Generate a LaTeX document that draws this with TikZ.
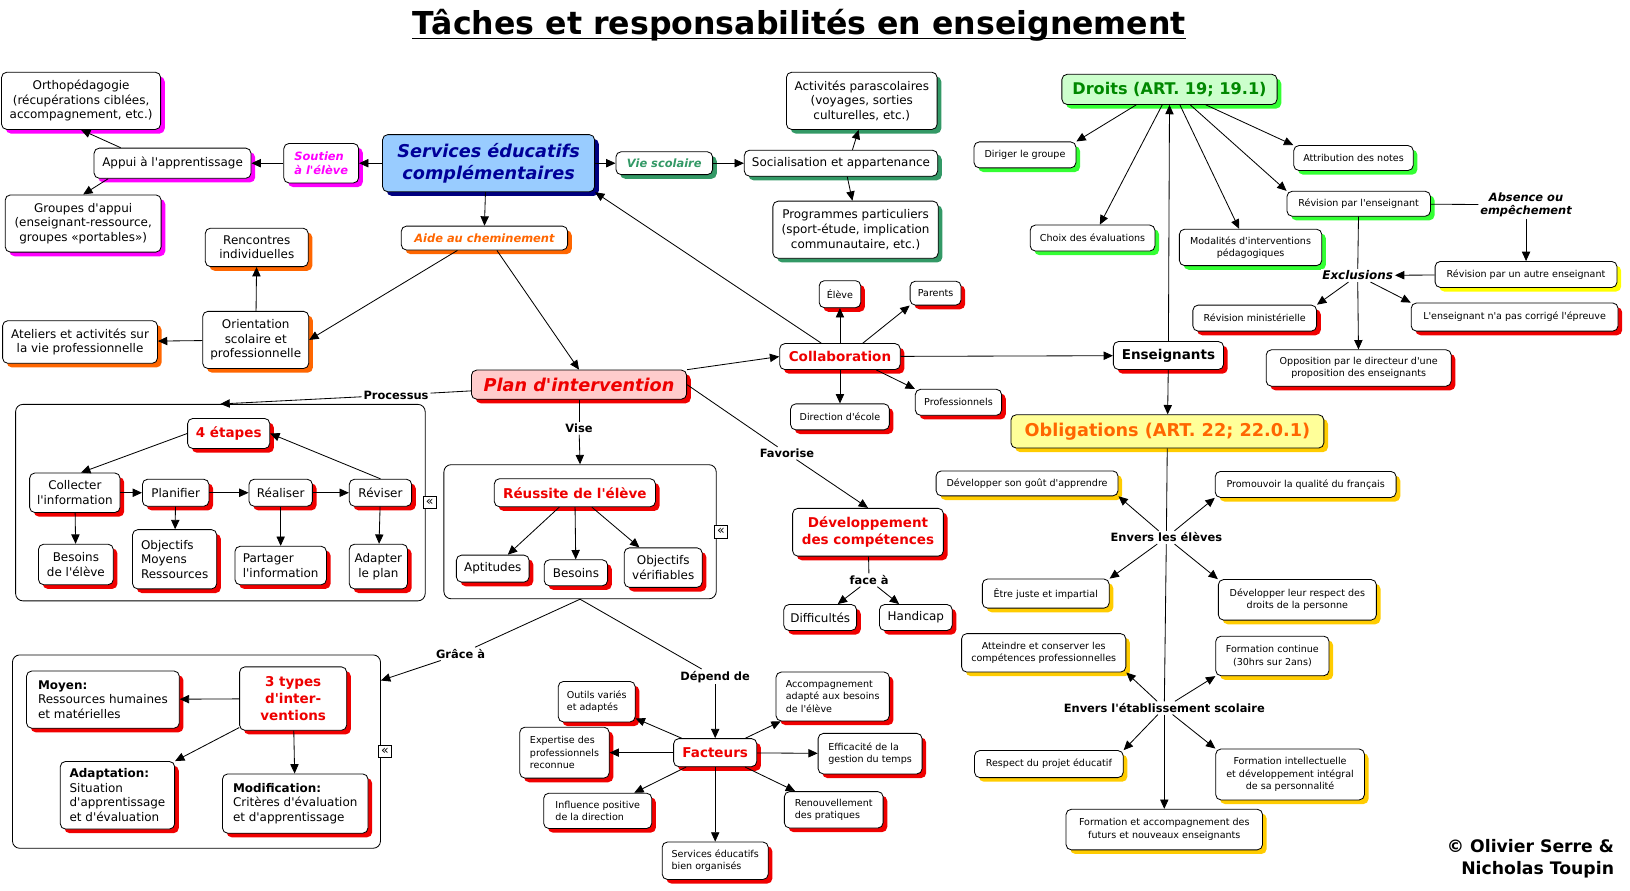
\documentclass[tikz,border=0pt]{standalone}
\usepackage{fontspec}
\setmainfont{DejaVu Sans}[Ligatures=TeXOff]
\usetikzlibrary{arrows.meta,shadows}

\definecolor{shMag}{HTML}{FF00FF}
\definecolor{shNavy}{HTML}{000080}
\definecolor{shSea}{HTML}{339966}
\definecolor{shOrange}{HTML}{FF6600}
\definecolor{shRed}{HTML}{F00000}
\definecolor{shLime}{HTML}{33FF33}
\definecolor{shGold}{HTML}{FFCC00}
\definecolor{shYellow}{HTML}{FFFF00}
\definecolor{servFill}{HTML}{99CCFF}
\definecolor{planFill}{HTML}{FFCCCC}
\definecolor{droitFill}{HTML}{CCFFCC}
\definecolor{obligFill}{HTML}{FFFF99}
\definecolor{txtNavy}{HTML}{000099}
\definecolor{txtRed}{HTML}{EE0000}
\definecolor{txtGreen}{HTML}{008800}
\definecolor{txtOrange}{HTML}{FF6600}

\newcommand{\ftTitle}{\fontsize{30.4}{36}\selectfont\bfseries}
\newcommand{\ftNorm}{\fontsize{11.5}{14}\selectfont}
\newcommand{\ftSmall}{\fontsize{9.2}{12}\selectfont}
\newcommand{\ftLbl}{\fontsize{11}{13}\selectfont\bfseries}
\newcommand{\ftRed}{\fontsize{13}{16}\selectfont\bfseries}
\newcommand{\ftBig}{\fontsize{17}{21}\selectfont\bfseries\itshape}
\newcommand{\ftTag}{\fontsize{11}{13}\selectfont\bfseries\itshape}

\begin{document}
\begin{tikzpicture}[x=1pt, y=-1pt, line width=0.8pt, >={Triangle[length=9pt,width=8pt]},
  box/.style={draw, rounded corners=5pt, fill=white, align=center, inner sep=2pt, font=\ftNorm,
    drop shadow={shadow xshift=4pt, shadow yshift=-4pt, fill=#1, draw=none, opacity=1}},
  box/.default=shRed,
  sbox/.style={box=#1, font=\ftSmall},
  sbox/.default=shRed,
  redbox/.style={box=shRed, font=\ftRed, text=txtRed},
  tag/.style={box=#1, font=\ftTag, text=#1},
  lbl/.style={font=\ftLbl, inner sep=1.5pt, fill=white},
  grp/.style={draw, rounded corners=7pt},
  ico/.style={draw, fill=white, inner sep=0pt, minimum size=12pt, font=\fontsize{12}{12}\selectfont},
  sz/.style 2 args={minimum width=#1pt, minimum height=#2pt}]
\useasboundingbox (0,0) rectangle (1568,857);

% ===== Title =====
\node[font=\ftTitle, inner sep=0pt, anchor=base] (title) at (769,33) {Tâches et responsabilités en enseignement};
\draw[line width=1.6pt] ([yshift=-4pt]title.base west) -- ([yshift=-4pt]title.base east);

% ===== Services educatifs (top left) =====
\node[box=shNavy, sz={204}{55}, fill=servFill, font=\ftBig, text=txtNavy] (serv) at (470,157) {Services éducatifs\\complémentaires};
\node[tag=shMag, sz={72}{38}, align=left] (soutien) at (309,157) {Soutien\\à l'élève};
\node[box=shMag, sz={151}{29}] (appui) at (166,157) {Appui à l'apprentissage};
\node[box=shMag, sz={153}{55}] (ortho) at (78,97) {Orthopédagogie\\(récupérations ciblées,\\accompagnement, etc.)};
\node[box=shMag, sz={150}{55}] (groupes) at (80,215) {Groupes d'appui\\(enseignant-ressource,\\groupes «portables»)};
\draw[->] (serv) -- (soutien);
\draw[->] (soutien) -- (appui);
\draw[->] ([xshift=26pt]appui.north west) -- (ortho.south);
\draw[->] ([xshift=14pt]appui.south west) -- (groupes.north);

% Vie scolaire
\node[tag=shSea, sz={93}{22}] (vie) at (639,157) {Vie scolaire};
\node[box=shSea, sz={186}{25}] (social) at (809,157) {Socialisation et appartenance};
\node[box=shSea, sz={145}{55}] (activ) at (829,97) {Activités parascolaires\\(voyages, sorties\\culturelles, etc.)};
\node[box=shSea, sz={159}{55}] (prog) at (823,221) {Programmes particuliers\\(sport-étude, implication\\communautaire, etc.)};
\draw[->] (serv) -- (vie);
\draw[->] (vie) -- (social);
\draw[->] ([xshift=11pt]social.north) -- ([xshift=-3pt]activ.south);
\draw[->] ([xshift=6pt]social.south) -- ([xshift=-3pt]prog.north);

% Aide au cheminement
\node[tag=shOrange, sz={160}{23}] (aide) at (466,229) {Aide au cheminement};
\node[box=shOrange, sz={99}{37}] (renc) at (247,238) {Rencontres\\individuelles};
\node[box=shOrange, sz={102}{55}] (orient) at (246,327) {Orientation\\scolaire et\\professionnelle};
\node[box=shOrange, sz={149}{41}] (atel) at (77,329) {Ateliers et activités sur\\la vie professionnelle};
\draw[->] ([xshift=-3pt]serv.south) -- (aide.north);
\draw[->] ([xshift=-26pt]aide.south) -- (orient.east);
\draw[->] (orient) -- (renc);
\draw[->] (orient) -- (atel);

% ===== Plan d'intervention =====
\node[box=shRed, sz={207}{28}, fill=planFill, font=\ftBig, text=txtRed] (plan) at (557,370) {Plan d'intervention};
\draw[->] ([xshift=12pt]aide.south) -- (plan.north);

% 4 etapes (Processus)
\node[grp, sz={394}{189}] (etapes) at (212,483.5) {};
\node[ico] (icoA) at ([xshift=4pt]etapes.east) {«};
\node[redbox, sz={79}{29}] (etape4) at (220,417) {4 étapes};
\node[box, sz={87}{38}] (collect) at (72,474) {Collecter\\l'information};
\node[box, sz={64}{26}] (planif) at (169,474) {Planifier};
\node[box, sz={61}{26}] (realis) at (270,474) {Réaliser};
\node[box, sz={60}{26}] (revis) at (366,474) {Réviser};
\node[box, sz={72}{39}] (besoins) at (73,543) {Besoins\\de l'élève};
\node[box, sz={81}{57}, align=left] (objmoy) at (168,538) {Objectifs\\Moyens\\Ressources};
\node[box, sz={88}{37}, align=left] (partag) at (270,544) {Partager\\l'information};
\node[box, sz={56}{43}] (adapt) at (364,545) {Adapter\\le plan};
\node[lbl] (proc) at (381,380) {Processus};
\draw ([yshift=-6pt]plan.west) -- (proc);
\draw[->] (proc) -- (etapes.north);
\draw[->] (etape4.west) -- ([xshift=6pt]collect.north);
\draw[->] (revis.north) -- (etape4.east);
\draw[->] (collect) -- (planif);
\draw[->] (planif) -- (realis);
\draw[->] (realis) -- (revis);
\draw[->] (collect) -- (besoins);
\draw[->] (planif) -- (objmoy);
\draw[->] (realis) -- (partag);
\draw[->] (revis) -- (adapt);

% Reussite (Vise)
\node[grp, sz={262}{129}] (but) at (558,511.5) {};
\node[ico] (icoB) at ([xshift=4pt]but.east) {«};
\node[redbox, sz={155}{27}] (reussite) at (553,474) {Réussite de l'élève};
\node[box, sz={70}{26}] (aptit) at (474,547) {Aptitudes};
\node[box, sz={61}{25}] (besoinsB) at (554,551) {Besoins};
\node[box, sz={75}{38}] (objver) at (638,546) {Objectifs\\vérifiables};
\node[lbl] (vise) at (557,412) {Vise};
\draw (plan) -- (vise);
\draw[->] (vise) -- (but.north);
\draw[->] (reussite) -- (aptit);
\draw[->] (reussite) -- (besoinsB);
\draw[->] (reussite) -- (objver);

% 3 types d'interventions (Grace a)
\node[grp, sz={354}{186}] (inter) at (189,723) {};
\node[ico] (icoC) at ([xshift=4pt]inter.east) {«};
\node[redbox, sz={103}{61}] (types) at (282,672) {3 types\\d'inter-\\ventions};
\node[box, sz={147}{55}, align=left] (moyen) at (99,673) {\textbf{Moyen:}\\Ressources humaines\\et matérielles};
\node[box, sz={110}{65}, align=left] (adaptn) at (113,765) {\textbf{Adaptation:}\\Situation\\d'apprentissage\\et d'évaluation};
\node[box, sz={140}{57}, align=left] (modif) at (284,773) {\textbf{Modification:}\\Critères d'évaluation\\et d'apprentissage};
\node[lbl] (grace) at (443,629) {Grâce à};
\draw (but.south) -- (grace);
\draw[->] (grace) -- ([yshift=-25pt]inter.north east);
\draw[->] (types) -- (moyen);
\draw[->] ([yshift=3pt]types.south west) -- (adaptn.north east);
\draw[->] (types) -- (modif);

% Facteurs (Depend de)
\node[redbox, sz={80}{27}] (fact) at (688,724) {Facteurs};
\node[sbox, sz={74}{39}, align=left] (outils) at (574,675) {Outils variés\\et adaptés};
\node[sbox, sz={86}{49}, align=left] (expert) at (543,724) {Expertise des\\professionnels\\reconnue};
\node[sbox, sz={104}{34}, align=left] (influ) at (575,780) {Influence positive\\de la direction};
\node[sbox, sz={102}{36}, align=left] (servorg) at (688,828) {Services éducatifs\\bien organisés};
\node[sbox, sz={95}{35}, align=left] (renouv) at (802,779) {Renouvellement\\des pratiques};
\node[sbox, sz={100}{39}, align=left] (effic) at (837,725) {Efficacité de la\\gestion du temps};
\node[sbox, sz={109}{47}, align=left] (accomp) at (801,670) {Accompagnement\\adapté aux besoins\\de l'élève};
\node[lbl] (depend) at (688,651) {Dépend de};
\draw (but.south) -- (depend);
\draw[->] (depend) -- (fact);
\foreach \f in {outils,expert,influ,servorg,renouv,effic,accomp}
  \draw[->] (fact) -- (\f);

% ===== Collaboration =====
\node[redbox, sz={116}{25}] (collab) at (808,343) {Collaboration};
\node[sbox, sz={40}{26}] (eleve) at (808,283) {Élève};
\node[sbox, sz={49}{23}] (parents) at (900,282) {Parents};
\node[sbox, sz={83}{25}] (prof) at (922,387) {Professionnels};
\node[sbox, sz={95}{25}] (direct) at (808,401) {Direction d'école};
\draw[->] (plan.north east) -- (collab.west);
\draw[->] ([xshift=-18pt]collab.north) -- (serv.south east);
\draw[->] (collab) -- (eleve);
\draw[->] ([xshift=22pt]collab.north) -- (parents.south west);
\draw[->] ([xshift=35pt]collab.south) -- (prof.north west);
\draw[->] (collab) -- (direct);

% Developpement des competences (Favorise)
\node[redbox, sz={145}{46}] (dev) at (835,512) {Développement\\des compétences};
\node[box, sz={70}{25}] (diff) at (789,594) {Difficultés};
\node[box, sz={70}{25}] (handi) at (881,594) {Handicap};
\node[lbl] (fav) at (757,436) {Favorise};
\node[lbl] (faceA) at (836,558) {face à};
\draw (plan.east) -- (fav);
\draw[->] (fav) -- (dev.north);
\draw (dev) -- (faceA);
\draw[->] (faceA) -- (diff);
\draw[->] (faceA) -- (handi);

% ===== Enseignants =====
\node[box, sz={106}{27}, font=\ftRed] (ens) at (1124,342) {Enseignants};
\draw[->] (collab) -- (ens);

% Droits
\node[box=shLime, sz={207}{29}, fill=droitFill, font=\fontsize{15.5}{18}\selectfont\bfseries, text=txtGreen] (droits) at (1125,86) {Droits (ART. 19; 19.1)};
\node[sbox=shLime, sz={98}{25}] (dirig) at (986,149) {Diriger le groupe};
\node[sbox=shLime, sz={120}{25}] (choix) at (1051,229) {Choix des évaluations};
\node[sbox=shLime, sz={137}{35}] (modal) at (1203,238) {Modalités d'interventions\\pédagogiques};
\node[sbox=shLime, sz={115}{24}] (attrib) at (1302,152) {Attribution des notes};
\node[sbox=shLime, sz={138}{24}] (revens) at (1307,196) {Révision par l'enseignant};
\draw[->] (ens.north) -- (droits.south);
\draw[->] ([xshift=-32pt]droits.south) -- (dirig.north east);
\draw[->] ([xshift=-7pt]droits.south) -- ([xshift=7pt]choix.north);
\draw[->] ([xshift=10pt]droits.south) -- ([xshift=-11pt]modal.north);
\draw[->] ([xshift=20pt]droits.south) -- (revens.north west);
\draw[->] ([xshift=35pt]droits.south) -- (attrib.north west);

% Revision: absence et exclusions
\node[font=\ftTag, inner sep=1.5pt, align=center] (absence) at (1468,197) {Absence ou\\empêchement};
\node[sbox=shYellow, sz={175}{25}] (revautre) at (1468,264) {Révision par un autre enseignant};
\node[font=\fontsize{11.5}{13}\selectfont\bfseries\itshape, inner sep=1.5pt, fill=white] (excl) at (1306,265) {Exclusions};
\node[sbox, sz={119}{25}] (revmin) at (1207,306) {Révision ministérielle};
\node[sbox, sz={199}{27}] (nonc) at (1457,305) {L'enseignant n'a pas corrigé l'épreuve};
\node[sbox, sz={178}{35}] (oppos) at (1307,354) {Opposition par le directeur d'une\\proposition des enseignants};
\draw (revens) -- (absence);
\draw[->] (absence) -- (revautre);
\draw[->] (revautre) -- (excl);
\draw (revens) -- (excl);
\draw[->] (excl) -- (oppos);
\draw[->] (excl) -- (revmin.north east);
\draw[->] (excl) -- (nonc.north west);

% Obligations
\node[box=shGold, sz={301}{32}, fill=obligFill, font=\fontsize{17}{20}\selectfont\bfseries, text=txtOrange] (oblig) at (1123,415) {Obligations (ART. 22; 22.0.1)};
\draw[->] (ens) -- (oblig);
\node[lbl] (envEl) at (1122,517) {Envers les élèves};
\node[sbox=shGold, sz={175}{24}] (gout) at (988,465) {Développer son goût d'apprendre};
\node[sbox=shGold, sz={174}{25}] (promo) at (1256,466) {Promouvoir la qualité du français};
\node[sbox=shGold, sz={122}{28}] (juste) at (1006,571) {Être juste et impartial};
\node[sbox=shGold, sz={152}{39}] (resp) at (1248,577) {Développer leur respect des\\droits de la personne};
\draw (oblig) -- (envEl);
\draw[->] (envEl) -- (gout.south east);
\draw[->] (envEl) -- (promo.south west);
\draw[->] (envEl) -- (juste.north east);
\draw[->] (envEl) -- (resp.north west);

\node[lbl] (envEt) at (1120,681) {Envers l'établissement scolaire};
\node[sbox=shGold, sz={158}{37}] (atteind) at (1004,628) {Atteindre et conserver les\\compétences professionnelles};
\node[sbox=shGold, sz={109}{38}] (fcont) at (1224,631) {Formation continue\\(30hrs sur 2ans)};
\node[sbox=shGold, sz={143}{26}] (projet) at (1009,735) {Respect du projet éducatif};
\node[sbox=shGold, sz={143}{49}] (fintel) at (1241,745) {Formation intellectuelle\\et développement intégral\\de sa personnalité};
\node[sbox=shGold, sz={189}{39}] (faccomp) at (1120,798) {Formation et accompagnement des\\futurs et nouveaux enseignants};
\draw (envEl) -- (envEt);
\draw[->] (envEt) -- (atteind.south east);
\draw[->] (envEt) -- (fcont.south west);
\draw[->] (envEt) -- (projet.north east);
\draw[->] (envEt) -- (fintel.north west);
\draw[->] (envEt) -- (faccomp);

% Signature
\node[font=\fontsize{16.6}{21}\selectfont\bfseries, align=right, anchor=east, inner sep=0pt] (auteurs) at (1553,826) {© Olivier Serre \&\\Nicholas Toupin};
\end{tikzpicture}
\end{document}
